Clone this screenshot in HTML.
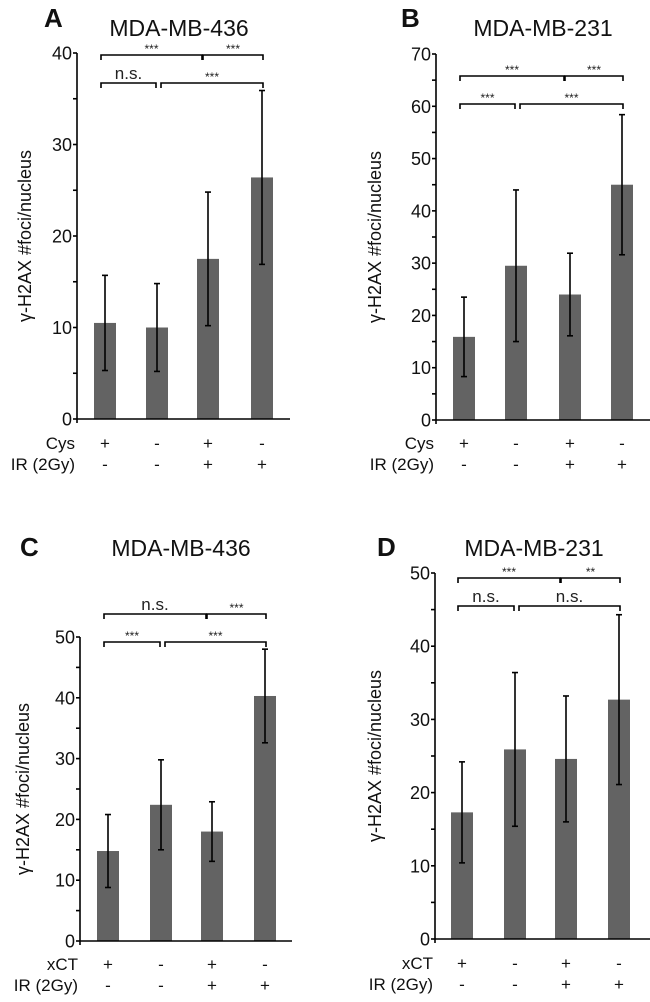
<!DOCTYPE html>
<html><head><meta charset="utf-8"><style>
html,body{margin:0;padding:0;background:#fff;width:650px;height:1002px;overflow:hidden}
svg{display:block;font-family:"Liberation Sans",sans-serif}
</style></head><body>
<svg id="fig" width="650" height="1002" viewBox="0 0 650 1002"></svg>
<script>
// Panel data
const categories = ["1","2","3","4"];
const rowTop_AB = ["+","-","+","-"];
const rowIR = ["-","-","+","+"];
const meansA = [10.5, 10.0, 17.5, 26.4];
const errA = [5.2, 4.8, 7.3, 9.5];
const meansB = [15.9, 29.5, 24.0, 45.0];
const errB = [7.6, 14.5, 7.9, 13.4];
const meansC = [14.8, 22.4, 18.0, 40.3];
const errC = [6.0, 7.4, 4.9, 7.7];
const meansD = [17.3, 25.9, 24.6, 32.7];
const errD = [6.9, 10.5, 8.6, 11.6];
const ticksA = [0,10,20,30,40];
const ticksB = [0,10,20,30,40,50,60,70];
const ticksC = [0,10,20,30,40,50];
const ticksD = [0,10,20,30,40,50];
const sigA = ["***","***","n.s.","***"];
const sigB = ["***","***","***","***"];
const sigC = ["n.s.","***","***","***"];
const sigD = ["***","**","n.s.","n.s."];

const NS="http://www.w3.org/2000/svg";
const svg=document.getElementById('fig');
function el(tag,attrs,parent,text){const e=document.createElementNS(NS,tag);for(const k in attrs)e.setAttribute(k,attrs[k]);if(text!==undefined)e.textContent=text;(parent||svg).appendChild(e);return e;}

function panel(cfg){
  const g=el('g',{});
  
  
  const ymax=cfg.ticks[cfg.ticks.length-1];
  const y=v=>cfg.y0-(v/ymax)*(cfg.y0-cfg.ytop);
  const x=i=>cfg.xc[i];
  const L=el('text',{x:cfg.lx,y:cfg.ly,'font-size':26,'font-weight':'bold',fill:'#111'},g,cfg.letter);
  
  
  const T=el('text',{x:cfg.tx,y:cfg.ty,'font-size':23,'text-anchor':'middle',fill:'#111'},g,cfg.title);
  
  
  cfg.means.forEach((m,i)=>{
    const b=el('rect',{x:x(i)-11,y:y(m),width:22,height:y(0)-y(m),fill:'#636363'},g);
    
    
  });
  cfg.means.forEach((m,i)=>{
    const e=cfg.err[i];
    const eg=el('g',{stroke:'#000','stroke-width':1.6},g);
    
    
    el('line',{x1:x(i),x2:x(i),y1:y(m+e),y2:y(m-e)},eg);
    el('line',{x1:x(i)-3,x2:x(i)+3,y1:y(m+e),y2:y(m+e)},eg);
    el('line',{x1:x(i)-3,x2:x(i)+3,y1:y(m-e),y2:y(m-e)},eg);
  });
  const ax=el('g',{stroke:'#000','stroke-width':1.6},g);
  
  
  el('line',{x1:cfg.ax,x2:cfg.ax,y1:y(ymax),y2:y(0)+4},ax);
  el('line',{x1:cfg.ax,x2:cfg.xend,y1:y(0),y2:y(0)},ax);
  const step=cfg.ticks[1]-cfg.ticks[0];
  for(let v=0;v<=ymax+0.001;v+=step/2){
    el('line',{x1:cfg.ax-4,x2:cfg.ax,y1:y(v),y2:y(v)},ax);
  }
  cfg.ticks.forEach(t=>{
    const tl=el('text',{x:cfg.ax-5,y:y(t)+6.5,'font-size':18,'text-anchor':'end',fill:'#111'},g,t);
    
    
  });
  const my=(y(0)+y(ymax))/2;
  const yt=el('text',{x:cfg.ytx,y:my,'font-size':18,'text-anchor':'middle',fill:'#111',transform:`rotate(-90 ${cfg.ytx} ${my})`},g,'γ-H2AX #foci/nucleus');
  
  
  const r1=el('text',{x:cfg.ax-2,y:cfg.r1y,'font-size':17,'text-anchor':'end',fill:'#111'},g,cfg.rowName);
  
  
  const r2=el('text',{x:cfg.ax-2,y:cfg.r1y+21,'font-size':17,'text-anchor':'end',fill:'#111'},g,'IR (2Gy)');
  
  
  categories.forEach((c,i)=>{
    const a=el('text',{x:x(i),y:cfg.r1y,'font-size':17,'text-anchor':'middle',fill:'#111'},g,rowTop_AB[i]);
    
    
    const b=el('text',{x:x(i),y:cfg.r1y+21,'font-size':17,'text-anchor':'middle',fill:'#111'},g,rowIR[i]);
    
    
  });
  const br=[[x(0)-4,x(2)-6,cfg.b1],[x(2)-5,x(3)+1,cfg.b1],[x(0)-4,x(1)-1,cfg.b2],[x(1)+4,x(3)+1,cfg.b2]];
  br.forEach((b,i)=>{
    const bg=el('g',{},g);
    
    
    el('path',{d:`M${b[0]} ${b[2]+5}V${b[2]}H${b[1]}V${b[2]+5}`,stroke:'#000','stroke-width':1.6,fill:'none'},bg);
    const ns=cfg.sig[i]==='n.s.';
    el('text',{x:(b[0]+b[1])/2,y:b[2]-(ns?4:2),'font-size':ns?17:12,'text-anchor':'middle',fill:'#222'},bg,cfg.sig[i]);
  });
}

panel({letter:'A',title:'MDA-MB-436',lx:44,ly:27,tx:179,ty:36,ticks:ticksA,means:meansA,err:errA,ax:77,xend:290,y0:419,ytop:53,xc:[105,157,208,262],ytx:31,r1y:449,rowName:'Cys',b1:55,b2:83,sig:sigA});
panel({letter:'B',title:'MDA-MB-231',lx:401,ly:27,tx:543,ty:36,ticks:ticksB,means:meansB,err:errB,ax:436,xend:650,y0:420,ytop:54,xc:[464,516,570,622],ytx:381,r1y:449,rowName:'Cys',b1:76,b2:104,sig:sigB});
panel({letter:'C',title:'MDA-MB-436',lx:20,ly:556,tx:181,ty:556,ticks:ticksC,means:meansC,err:errC,ax:80,xend:292,y0:941,ytop:637,xc:[108,161,212,265],ytx:29,r1y:970,rowName:'xCT',b1:614,b2:642,sig:sigC});
panel({letter:'D',title:'MDA-MB-231',lx:377,ly:556,tx:534,ty:556,ticks:ticksD,means:meansD,err:errD,ax:435,xend:650,y0:939,ytop:573,xc:[462,515,566,619],ytx:381,r1y:969,rowName:'xCT',b1:578,b2:606,sig:sigD});
</script>
</body></html>
